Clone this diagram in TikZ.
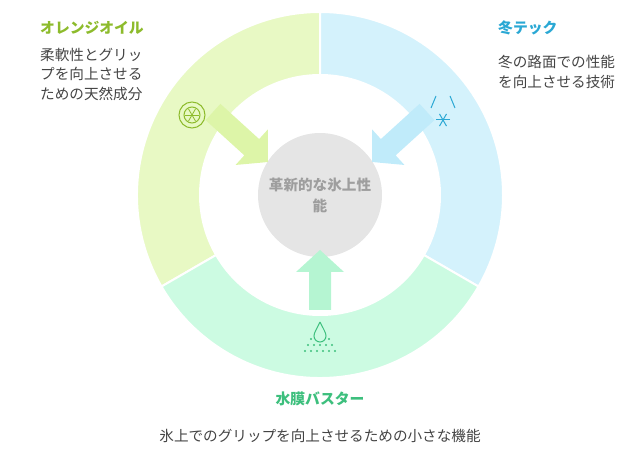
\documentclass[tikz,border=0pt]{standalone}
\usepackage{fontspec}
\setmainfont{Noto Sans CJK JP}
\usetikzlibrary{calc}
\definecolor{segL}{HTML}{E8F9C4}\definecolor{arrL}{HTML}{DDF5A8}
\definecolor{segR}{HTML}{D4F2FC}\definecolor{arrR}{HTML}{C0EBFA}
\definecolor{segB}{HTML}{CCFBE2}\definecolor{arrB}{HTML}{B5F5D2}
\definecolor{tL}{HTML}{8DBB2C}\definecolor{tR}{HTML}{2AA8D4}\definecolor{tB}{HTML}{3DBF7D}
\definecolor{body}{HTML}{444444}
\tikzset{title/.style={font=\bfseries\fontsize{14.8}{17}\selectfont,anchor=west,inner sep=0},
 desc/.style={font=\fontsize{14.6}{19.5}\selectfont,text=body,anchor=north west,align=left,inner sep=0}}
\newcommand{\blockarrow}[3]{%
 \coordinate (H) at ($(#2)!22pt!(#1)$);
 \fill[#3] ($(#1)!11pt!90:(#2)$) -- ($(H)!11pt!90:(#2)$) -- ($(H)!24pt!90:(#2)$) -- (#2)
  -- ($(H)!24pt!-90:(#2)$) -- ($(H)!11pt!-90:(#2)$) -- ($(#1)!11pt!-90:(#2)$) -- cycle;}
\newcommand{\sector}[3]{%
 \filldraw[fill=#3,draw=white,line width=2pt] ($(c)+(#1:183)$) arc[start angle=#1,end angle=#2,radius=183]
  -- ($(c)+(#2:120)$) arc[start angle=#2,end angle=#1,radius=120] -- cycle;}
\begin{document}
\begin{tikzpicture}[x=1pt,y=-1pt]
\useasboundingbox (0,0) rectangle (640,454);
\coordinate (c) at (320,195);
\sector{150}{270}{segL}
\sector{270}{390}{segR}
\sector{30}{150}{segB}
\node[circle,fill=black!10,minimum size=124pt,inner sep=0] (ctr) at (c) {};
\coordinate (la) at (213,112); \coordinate (lb) at (268,162);
\coordinate (ra) at (427,112); \coordinate (rb) at (372,162);
\coordinate (ba) at (320,310); \coordinate (bb) at (320,250);
\blockarrow{la}{lb}{arrL}
\blockarrow{ra}{rb}{arrR}
\blockarrow{ba}{bb}{arrB}
\node[font=\bfseries\fontsize{14.6}{21}\selectfont,text=black!38,align=center] (ct) at (c) {革新的な氷上性\\能};
% left icon
\draw[tL,line width=1pt] (192,115) circle (13);
\draw[tL,line width=1pt] (192,115) circle (8);
\foreach \a in {0,60,120} \draw[tL,line width=0.8pt] ($(192,115)+(\a:7)$) -- ($(192,115)+(\a+180:7)$);
% right icon
\draw[tR,line width=1pt] (436,96) -- (431,108) (450,96) -- (455,108);
\foreach \a in {0,60,120} \draw[tR,line width=1pt] ($(443,120)+(\a:7)$) -- ($(443,120)+(\a+180:7)$);
% bottom icon
\draw[tB,line width=1pt] (320,322) .. controls (316,330) and (314,333) .. (314,336) arc[start angle=180,end angle=0,radius=6] .. controls (326,333) and (324,330) .. (320,322);
\foreach \p in {(308,345),(314,345),(320,345),(326,345),(332,345),(305,351),(311,351),(317,351),(323,351),(329,351),(335,351),(311,339),(329,339)}
 \fill[tB] \p circle (1.2);
\node[title,text=tL] (t1) at (40,28) {オレンジオイル};
\node[desc] (d1) at (40,48) {柔軟性とグリッ\\プを向上させる\\ための天然成分};
\node[title,text=tR] (t2) at (498,28) {冬テック};
\node[desc] (d2) at (498,55) {冬の路面での性能\\を向上させる技術};
\node[title,text=tB,anchor=center] (t3) at (320,399) {水膜バスター};
\node[desc,anchor=center] (d3) at (320,436) {氷上でのグリップを向上させるための小さな機能};
\end{tikzpicture}
\end{document}
